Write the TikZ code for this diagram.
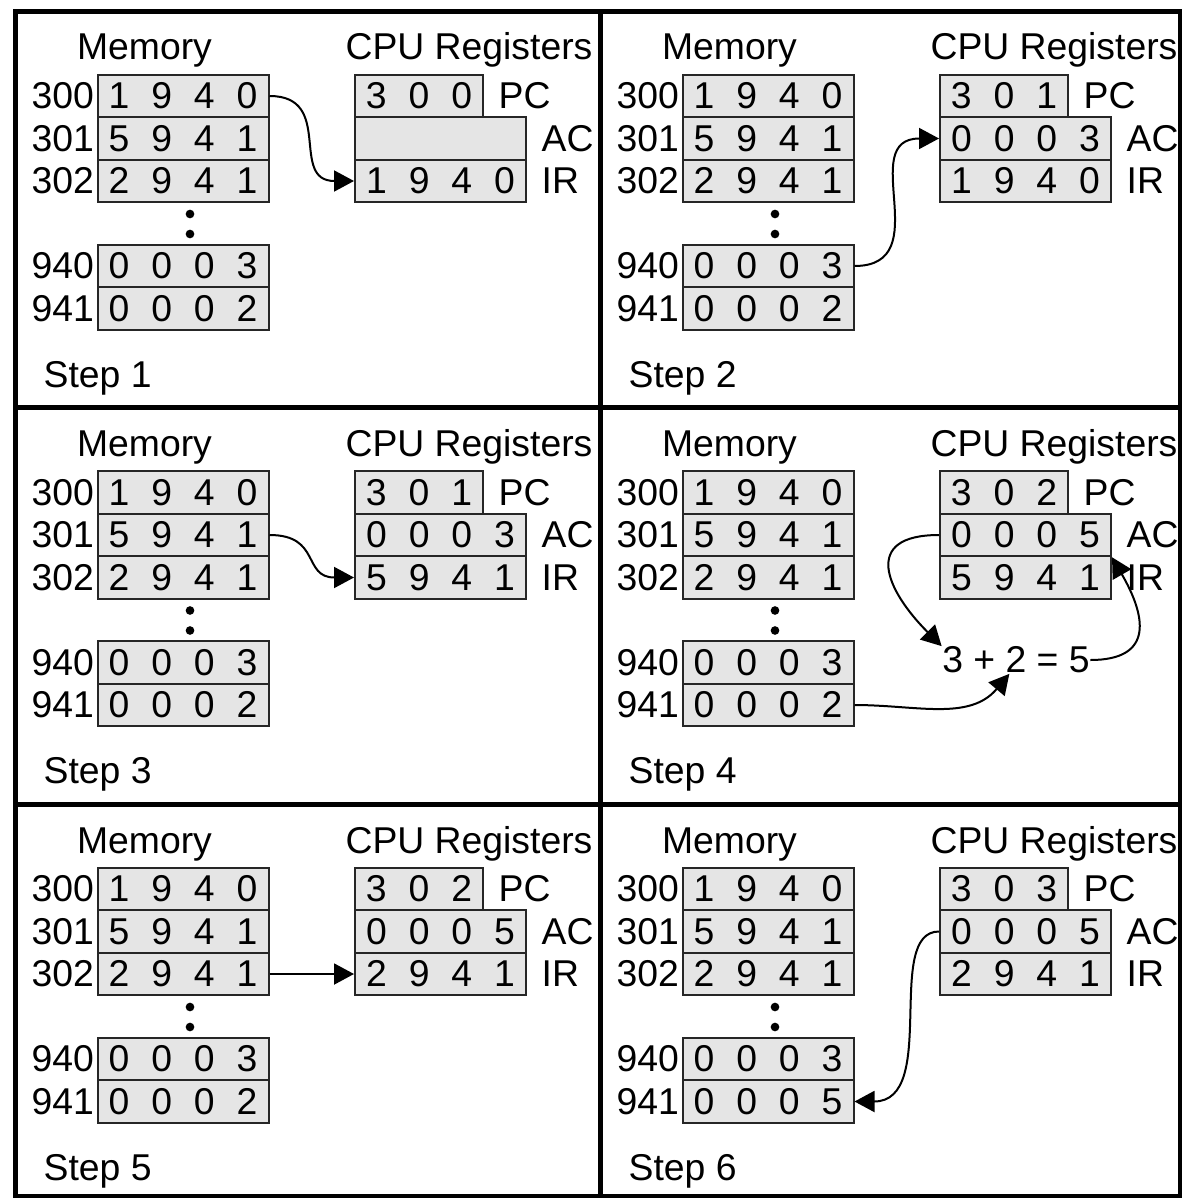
\documentclass[tikz,border=0pt]{standalone}
\usepackage{fontspec}
\setmainfont{Liberation Sans}
\usepackage{tikz}
\usetikzlibrary{arrows.meta, positioning}
\newcommand{\regfont}{\fontsize{11.2}{13}\selectfont}
\newcommand{\three}[3]{\makebox[12.8pt]{#1}\makebox[12.8pt]{#2}\makebox[12.8pt]{#3}}
\newcommand{\four}[4]{\three{#1}{#2}{#3}\makebox[12.8pt]{#4}}
% one step: name, x shift, y shift, step, PC, AC, IR, word 941
\newcommand{\cpupanel}[8]{%
  \begin{scope}[shift={(#2,#3)}]
    \node[head] (#1-memt) at (144.5,60) {Memory};
    \node[head] (#1-cput) at (469,60) {CPU Registers};
    \node[cell] (#1-m300) at (183,96) {\four 1940};
    \node[cell] (#1-m301) at (183,138.5) {\four 5941};
    \node[cell] (#1-m302) at (183,181) {\four 2941};
    \node[cell] (#1-m940) at (183,266) {\four 0003};
    \node[cell] (#1-m941) at (183,308.5) {#8};
    \node[addr] (#1-a300) at (#1-m300.west) {300};
    \node[addr] (#1-a301) at (#1-m301.west) {301};
    \node[addr] (#1-a302) at (#1-m302.west) {302};
    \node[addr] (#1-a940) at (#1-m940.west) {940};
    \node[addr] (#1-a941) at (#1-m941.west) {941};
    \fill (190,214) circle[radius=1.3pt] (190,234) circle[radius=1.3pt];
    \node[cell, minimum width=38.4pt] (#1-pc) at (419,96) {#5};
    \node[cell] (#1-ac) at (440.5,138.5) {#6};
    \node[cell] (#1-ir) at (440.5,181) {#7};
    \node[reg] (#1-lpc) at ([xshift=4.2pt]#1-pc.east) {PC};
    \node[reg] (#1-lac) at ([xshift=4.2pt]#1-ac.east) {AC};
    \node[reg] (#1-lir) at ([xshift=4.2pt]#1-ir.east) {IR};
    \node[head, anchor=base west] (#1-step) at (43,387) {Step #4};
  \end{scope}}

\begin{document}
\begin{tikzpicture}[
  x=0.3pt, y=-0.3pt,
  cell/.style={draw=black!85, fill=black!10, line width=0.6pt, minimum width=51.3pt, minimum height=12.75pt, inner sep=0pt, font=\regfont},
  head/.style={font=\regfont, inner sep=0pt, anchor=base},
  addr/.style={font=\regfont, inner sep=0.6pt, anchor=east},
  reg/.style={font=\regfont, inner sep=0pt, anchor=west},
  frame/.style={line width=1.5pt},
  flow/.style={-{Triangle[length=6pt, width=6.3pt]}, line width=0.6pt}
]
\useasboundingbox (0,0) rectangle (1181,1198);

% grid of six steps
\draw[frame] (15,11.5) rectangle (1180.5,1196.5);
\draw[frame] (600,11.5) -- (600,1196.5);
\draw[frame] (15,407.5) -- (1180.5,407.5);
\draw[frame] (15,804) -- (1180.5,804);

\cpupanel{s1}{0}{0}{1}{\three 300}{}{\four 1940}{\four 0002}
\cpupanel{s2}{585}{0}{2}{\three 301}{\four 0003}{\four 1940}{\four 0002}
\cpupanel{s3}{0}{396.5}{3}{\three 301}{\four 0003}{\four 5941}{\four 0002}
\cpupanel{s4}{585}{396.5}{4}{\three 302}{\four 0005}{\four 5941}{\four 0002}
\cpupanel{s5}{0}{793}{5}{\three 302}{\four 0005}{\four 2941}{\four 0002}
\cpupanel{s6}{585}{793}{6}{\three 303}{\four 0005}{\four 2941}{\four 0005}

% Step 1: fetch
\draw[flow] (s1-m300.east) to[out=0, in=180, looseness=1.4] (s1-ir.west);
% Step 2: load AC
\draw[flow] (s2-m940.east) to[out=0, in=180, looseness=1.4] (s2-ac.west);
% Step 3: fetch
\draw[flow] (s3-m301.east) to[out=0, in=180, looseness=1.4] (s3-ir.west);
% Step 4: add
\node[font=\regfont, inner sep=0pt] (sum) at (1016,660) {3 + 2 = 5};
\draw[flow] (s4-ac.west) to[out=180, in=135, looseness=1.8] (sum.north west);
\draw[flow] (s4-m941.east) to[out=0, in=230] ([xshift=-2pt]sum.south);
\draw[flow] (sum.east) to[out=0, in=-60, looseness=1.6] (s4-ac.south east);
% Step 5: fetch
\draw[flow] (s5-m302.east) -- (s5-ir.west);
% Step 6: store AC
\draw[flow] (s6-ac.west) to[out=180, in=0, out looseness=0.75, in looseness=1.15] (s6-m941.east);

\end{tikzpicture}
\end{document}
